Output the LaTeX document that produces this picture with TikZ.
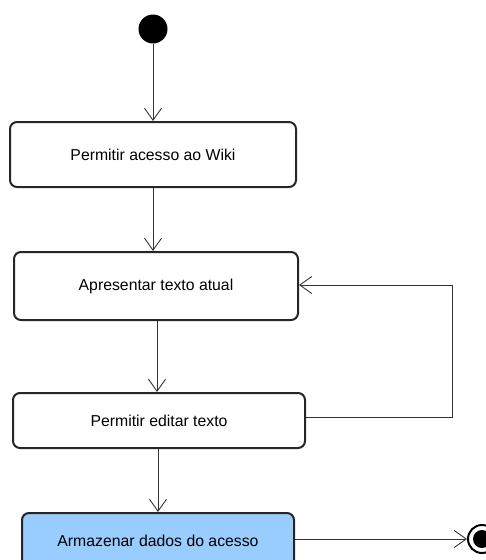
\documentclass[tikz,border=0pt]{standalone}
\usepackage{fontspec}
\setmainfont{Liberation Sans}
\usetikzlibrary{arrows.meta}
\definecolor{actfill}{HTML}{99CCFF}
\begin{document}
\begin{tikzpicture}[x=1pt,y=-1pt,
  action/.style={draw=black!85, line width=2pt, rounded corners=7pt, fill=white,
    inner sep=0pt, font=\fontsize{15.8}{18}\selectfont},
  flow/.style={draw=black!80, line width=0.9pt,
    -{Straight Barb[length=12pt,width=17pt,line width=0.9pt]}}]
  \useasboundingbox (0,0) rectangle (486,560);
  \clip (0,0) rectangle (486,560);

  % start and end states
  \node[circle, fill=black, minimum size=29pt, inner sep=0pt] (start) at (153,29) {};
  \node[circle, draw=black, line width=2pt, fill=white, minimum size=28pt, inner sep=0pt] (final) at (482,539) {};
  \fill[black] (final.center) circle (9pt);

  % actions
  \node[action, minimum width=286pt, minimum height=65pt] (wiki) at (153,154.5) {Permitir acesso ao Wiki};
  \node[action, minimum width=284pt, minimum height=68pt] (show) at (156,286) {Apresentar texto atual};
  \node[action, minimum width=292pt, minimum height=55pt] (edit) at (159,420.5) {Permitir editar texto};
  \node[action, fill=actfill, minimum width=272pt, minimum height=56pt] (store) at (158,541) {Armazenar dados do acesso};

  % control flow
  \coordinate (c1) at (153,0);
  \coordinate (c2) at (157,0);
  \coordinate (c3) at (158,0);
  \draw[flow] (start) -- (wiki.north -| start);
  \draw[flow] (wiki.south -| c1) -- (show.north -| c1);
  \draw[flow] (show.south -| c2) -- (edit.north -| c2);
  \coordinate (loopA) at (452,417);
  \coordinate (loopB) at (452,285);
  \draw[flow] (edit.east |- loopA) -- (loopA) -- (loopB) -- (show.east |- loopB);
  \draw[flow] (edit.south -| c3) -- (store.north -| c3);
  \draw[flow] (store.east |- final) -- (final.west);
\end{tikzpicture}
\end{document}
